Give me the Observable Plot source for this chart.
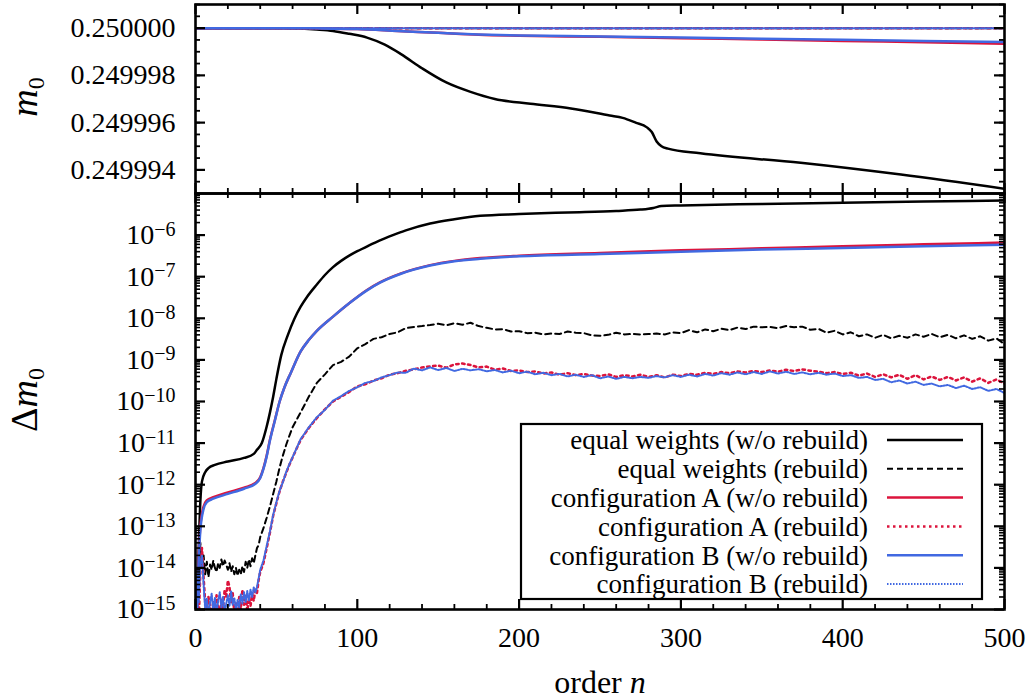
<!DOCTYPE html>
<html><head><meta charset="utf-8">
<script src="https://cdn.jsdelivr.net/npm/d3@7"></script>
<script src="https://cdn.jsdelivr.net/npm/@observablehq/plot@0.6"></script>
<style>
body{margin:0;background:#fff;}
#chart{position:relative;width:1029px;height:700px;background:#fff;overflow:hidden;font-family:"Liberation Serif",serif;}
#chart svg{position:absolute;left:0;}
</style></head><body><div id="chart"></div>
<script>
// ---------------- data ----------------
const seriesNames = ["equal weights (w/o rebuild)","equal weights (rebuild)","configuration A (w/o rebuild)","configuration A (rebuild)","configuration B (w/o rebuild)","configuration B (rebuild)"];
const xTicks = [0,100,200,300,400,500];
const m0Ticks = [0.249994,0.249996,0.249998,0.250000];
const dm0Ticks = [1e-15,1e-14,1e-13,1e-12,1e-11,1e-10,1e-9,1e-8,1e-7,1e-6];

// top panel: m0
const m0Equal = [[0,0.25],[55,0.25],[65,0.24999998],[75,0.24999994],[85,0.24999988],[95,0.24999976],[106,0.2499996],[117,0.2499993],[127,0.2499989],[140,0.2499983],[155,0.2499977],[170,0.2499973],[185,0.249997],[207,0.2499968],[232,0.2499966],[256,0.2499963],[264,0.2499962],[272,0.249996],[279,0.2499958],[282,0.2499956],[285,0.2499952],[288,0.249995],[292,0.2499949],[312,0.2499947],[374,0.2499943],[436,0.2499938],[500,0.2499932]];
const m0EqualRebuild = [[0,0.25],[500,0.25]];
const m0ConfA = [[0,0.25],[50,0.25],[75,0.24999999],[100,0.24999996],[125,0.24999988],[150,0.2499998],[175,0.24999972],[200,0.24999968],[250,0.24999963],[300,0.24999957],[350,0.24999952],[400,0.24999946],[450,0.2499994],[500,0.24999934]];
const m0ConfARebuild = [[0,0.25],[500,0.25]];
const m0ConfB = [[0,0.25],[50,0.25],[75,0.24999999],[100,0.24999996],[125,0.24999988],[150,0.2499998],[175,0.24999973],[200,0.24999969],[250,0.24999965],[300,0.2499996],[350,0.24999955],[400,0.24999951],[450,0.24999946],[500,0.24999941]];
const m0ConfBRebuild = [[0,0.25],[500,0.25]];

// bottom panel: Δm0
const dEqual = [[1,1e-15],[2,3e-14],[3,4e-13],[4,1.2e-12],[6,2e-12],[8,2.5e-12],[12,3e-12],[20,3.6e-12],[30,4.4e-12],[36,5.5e-12],[38,6.9e-12],[41,1e-11],[44,2.5e-11],[46,5.4e-11],[48,1.3e-10],[50,3.5e-10],[53,1.3e-9],[57,3.9e-9],[61,9.5e-9],[65,1.9e-8],[69,3.3e-8],[75,6.5e-8],[80,1.1e-7],[85,1.7e-7],[90,2.4e-7],[95,3.2e-7],[100,4.1e-7],[107,5.6e-7],[114,7.5e-7],[122,1e-6],[130,1.3e-6],[145,1.9e-6],[160,2.4e-6],[176,2.9e-6],[200,3.2e-6],[230,3.5e-6],[260,3.8e-6],[275,4.1e-6],[283,4.5e-6],[288,5e-6],[300,5.15e-6],[350,5.6e-6],[400,6e-6],[450,6.4e-6],[500,6.8e-6]];
const dConfA = [[1,1e-15],[2,2e-14],[3,1e-13],[5,3e-13],[7,4.2e-13],[11,5e-13],[20,6.5e-13],[30,8.5e-13],[37,1.1e-12],[40,1.5e-12],[42,2.5e-12],[44,5e-12],[46,1.2e-11],[49,3.5e-11],[52,1e-10],[55,2.2e-10],[59,5e-10],[65,1.6e-9],[70,3e-9],[75,5e-9],[85,1.1e-8],[95,2.3e-8],[106,4.8e-8],[114,7.3e-8],[127,1.2e-7],[145,1.9e-7],[160,2.4e-7],[176,2.8e-7],[200,3.2e-7],[250,3.7e-7],[300,4.3e-7],[350,4.8e-7],[400,5.4e-7],[450,6e-7],[500,6.6e-7]];
const dConfB = [[1,1e-15],[2,1.5e-14],[3,8e-14],[5,2.6e-13],[7,3.8e-13],[11,4.6e-13],[20,6e-13],[30,8e-13],[37,1.05e-12],[40,1.45e-12],[42,2.4e-12],[44,4.8e-12],[46,1.15e-11],[49,3.4e-11],[52,1e-10],[55,2.2e-10],[59,5e-10],[65,1.6e-9],[70,3e-9],[75,5e-9],[85,1.1e-8],[95,2.3e-8],[106,4.7e-8],[114,7.2e-8],[127,1.18e-7],[145,1.85e-7],[160,2.35e-7],[176,2.7e-7],[200,3.1e-7],[250,3.5e-7],[300,4e-7],[350,4.5e-7],[400,4.9e-7],[450,5.4e-7],[500,5.9e-7]];
const dEqualRebuild = [[2,2e-15],[3,4e-14],[4,1e-14],[5,2e-14],[6,7e-15],[7,1.4e-14],[8,6e-15],[9,1.2e-14],[10,9e-15],[11,1.5e-14],[12,1e-14],[13,8e-15],[14,1.3e-14],[15,1e-14],[16,1.6e-14],[17,1.1e-14],[18,1.5e-14],[19,1.2e-14],[20,9e-15],[21,1.3e-14],[22,8e-15],[23,1.1e-14],[24,7e-15],[25,1e-14],[26,6.5e-15],[27,9e-15],[28,7e-15],[29,1.1e-14],[30,8e-15],[31,1.4e-14],[32,1e-14],[33,1.6e-14],[34,1.1e-14],[35,1.7e-14],[36,1.3e-14],[37,2e-14],[38,3e-14],[39,3.5e-14],[40,5.5e-14],
[42,9e-14],[44,1.6e-13],[46,3e-13],[48,6e-13],[50,1.2e-12],[52,2.6e-12],[54,5e-12],[56,9e-12],[58,1.5e-11],[60,2.4e-11],
[65,5.5e-11],[70,1.3e-10],[75,2.8e-10],[80,4.5e-10],[85,7.5e-10],[90,9e-10],[95,1.2e-9],[100,1.9e-9],[105,2.4e-9],[110,3.2e-9],[115,3.5e-9],[120,4.2e-9],[125,4.6e-9],[130,5.8e-9],[135,6.2e-9],[140,6.5e-9],[145,6.9e-9],[150,7.4e-9],[155,6.8e-9],[160,7.6e-9],[165,7e-9],[170,7.8e-9],[175,6.5e-9],[180,5.9e-9],[185,5.4e-9],[190,5.5e-9],[195,4.8e-9],[200,4.9e-9],[205,4.4e-9],[210,4.5e-9],[215,4.1e-9],[220,4.3e-9],[225,4.2e-9],[230,4.8e-9],[235,4.5e-9],[240,4.4e-9],[245,3.9e-9],[250,3.8e-9],[255,4e-9],[260,4.5e-9],[265,4.1e-9],[270,4.2e-9],[275,4.1e-9],[280,4.2e-9],[285,4.3e-9],[290,4.1e-9],[295,4.6e-9],[300,4.4e-9],[305,5.2e-9],[310,4.6e-9],[315,5.4e-9],[320,4.9e-9],[325,5.6e-9],[330,5.2e-9],[335,6e-9],[340,5.5e-9],[345,6.3e-9],[350,6.1e-9],[355,6.2e-9],[360,5.8e-9],[365,6.5e-9],[370,6.1e-9],[375,6.3e-9],[380,5.3e-9],[385,5.6e-9],[390,4.5e-9],[395,5e-9],[400,4.1e-9],[405,4.6e-9],[410,3.7e-9],[415,4.1e-9],[420,3.4e-9],[425,4e-9],[430,3.3e-9],[435,3.8e-9],[440,3.4e-9],[445,4.1e-9],[450,3.6e-9],[455,4.2e-9],[460,3.5e-9],[465,4e-9],[470,3.3e-9],[475,3.9e-9],[480,3.2e-9],[485,3.7e-9],[490,2.9e-9],[495,3.3e-9],[500,2.4e-9]];
const dConfARebuild = [[2,5e-16],[3,8e-15],[4,3e-14],[5,6e-15],[6,1.5e-15],[7,8e-16],[8,2e-15],[9,1.2e-15],[10,7e-16],[11,1.6e-15],[12,9e-16],[13,2.2e-15],[14,1.1e-15],[15,7e-16],[16,1.8e-15],[17,1e-15],[18,3e-15],[19,2e-15],[20,5e-15],[21,3.5e-15],[22,1.5e-15],[23,2.5e-15],[24,8e-16],[25,1.4e-15],[26,6e-16],[27,2e-15],[28,1e-15],[29,3e-15],[30,1.3e-15],[31,2.2e-15],[32,9e-16],[33,1.8e-15],[34,1.2e-15],[35,2.5e-15],[36,1.6e-15],[37,3e-15],[38,2.5e-15],[39,5e-15],[40,8e-15],
[42,1.3e-14],[44,3e-14],[46,7e-14],[48,1.8e-13],[50,3.6e-13],[52,7e-13],[54,1.2e-12],[56,1.9e-12],[58,3e-12],[60,4.5e-12],
[65,1.2e-11],[70,2.3e-11],[75,4e-11],[80,6.5e-11],[85,1e-10],[90,1.3e-10],[95,1.7e-10],[100,2.3e-10],[105,2.6e-10],[110,3.2e-10],[115,3.6e-10],[120,4.4e-10],[125,4.8e-10],[130,5.5e-10],[135,5.9e-10],[140,6.6e-10],[145,7e-10],[150,7.3e-10],[155,6.5e-10],[160,7.8e-10],[165,8.2e-10],[170,7.5e-10],[175,6.6e-10],[180,6.9e-10],[185,5.8e-10],[190,6.2e-10],[195,5.4e-10],[200,5.6e-10],[205,5.1e-10],[210,5.3e-10],[215,4.7e-10],[220,5e-10],[225,4.4e-10],[230,4.8e-10],[235,4.3e-10],[240,4.6e-10],[245,4.2e-10],[250,4.1e-10],[255,4.5e-10],[260,3.9e-10],[265,4.3e-10],[270,4e-10],[275,4.4e-10],[280,3.9e-10],[285,4.3e-10],[290,3.8e-10],[295,4.4e-10],[300,4.1e-10],[305,4.6e-10],[310,4.4e-10],[315,4.9e-10],[320,4.6e-10],[325,5.1e-10],[330,4.8e-10],[335,5.3e-10],[340,5e-10],[345,5.4e-10],[350,5.1e-10],[355,5.6e-10],[360,5.2e-10],[365,5.8e-10],[370,5.4e-10],[375,5.9e-10],[380,5.5e-10],[385,5.2e-10],[390,4.8e-10],[395,5.1e-10],[400,4.6e-10],[405,4.9e-10],[410,4.2e-10],[415,4.7e-10],[420,3.9e-10],[425,4.5e-10],[430,3.8e-10],[435,4.4e-10],[440,3.5e-10],[445,4.3e-10],[450,3.4e-10],[455,4e-10],[460,3.3e-10],[465,3.9e-10],[470,3.2e-10],[475,3.8e-10],[480,3e-10],[485,3.6e-10],[490,2.8e-10],[495,3.4e-10],[500,2.7e-10]];
const dConfBRebuild = [[2,1.5e-15],[3,1.2e-14],[4,2e-14],[5,4e-15],[6,1e-15],[7,1.8e-15],[8,7e-16],[9,1.5e-15],[10,2.4e-15],[11,9e-16],[12,1.9e-15],[13,8e-16],[14,1.6e-15],[15,2.6e-15],[16,1.1e-15],[17,2e-15],[18,8e-16],[19,1.4e-15],[20,2.2e-15],[21,1.2e-15],[22,2.8e-15],[23,1.3e-15],[24,1.9e-15],[25,9e-16],[26,1.7e-15],[27,1.1e-15],[28,2.3e-15],[29,1.4e-15],[30,2.6e-15],[31,1.5e-15],[32,2.8e-15],[33,1.6e-15],[34,3e-15],[35,2e-15],[36,3.4e-15],[37,2.6e-15],[38,3.5e-15],[39,5.5e-15],[40,9e-15],
[42,1.5e-14],[44,3.4e-14],[46,7.5e-14],[48,1.9e-13],[50,3.8e-13],[52,7.2e-13],[54,1.15e-12],[56,2e-12],[58,3.1e-12],[60,4.6e-12],
[65,1.25e-11],[70,2.4e-11],[75,4.2e-11],[80,6.3e-11],[85,1.05e-10],[90,1.35e-10],[95,1.8e-10],[100,2.2e-10],[105,2.8e-10],[110,3.1e-10],[115,3.8e-10],[120,4.3e-10],[125,5e-10],[130,4.9e-10],[135,6.2e-10],[140,5.6e-10],[145,6.6e-10],[150,5.7e-10],[155,6.4e-10],[160,5.4e-10],[165,6.1e-10],[170,5.6e-10],[175,6e-10],[180,5.3e-10],[185,5.7e-10],[190,5e-10],[195,5.5e-10],[200,4.8e-10],[205,5.2e-10],[210,4.5e-10],[215,4.9e-10],[220,4.3e-10],[225,4.6e-10],[230,4e-10],[235,4.4e-10],[240,3.9e-10],[245,4.3e-10],[250,3.6e-10],[255,4e-10],[260,3.5e-10],[265,3.9e-10],[270,3.6e-10],[275,3.9e-10],[280,3.7e-10],[285,4.1e-10],[290,3.8e-10],[295,4.3e-10],[300,3.9e-10],[305,4.4e-10],[310,4e-10],[315,4.6e-10],[320,4.2e-10],[325,4.8e-10],[330,4.4e-10],[335,5e-10],[340,4.5e-10],[345,5.1e-10],[350,4.6e-10],[355,5.3e-10],[360,4.7e-10],[365,5.2e-10],[370,4.6e-10],[375,5e-10],[380,4.5e-10],[385,4.9e-10],[390,4.4e-10],[395,4.7e-10],[400,4.1e-10],[405,4.3e-10],[410,3.7e-10],[415,3.9e-10],[420,3.3e-10],[425,3.5e-10],[430,2.9e-10],[435,3.2e-10],[440,2.7e-10],[445,3e-10],[450,2.5e-10],[455,2.7e-10],[460,2.3e-10],[465,2.5e-10],[470,2.1e-10],[475,2.4e-10],[480,2e-10],[485,2.2e-10],[490,1.8e-10],[495,2e-10],[500,1.6e-10]];

// ---------------- layout & styles ----------------
const W = 1029, ML = 195, MR = 25, PW = W - ML - MR;
const TOP_H = 200, TOP_MT = 4, TOP_MB = 7, TOP_PH = TOP_H - TOP_MT - TOP_MB;
const BOT_TOP = 187, BOT_H = 513, BOT_MT = 6, BOT_MB = 91, BOT_PH = BOT_H - BOT_MT - BOT_MB;
const MAJ = 10, MIN = 5;
const styles = [
  {stroke: "#000000", strokeWidth: 2.5},
  {stroke: "#000000", strokeWidth: 2, strokeDasharray: "6,4"},
  {stroke: "#dc143c", strokeWidth: 2.5},
  {stroke: "#dc143c", strokeWidth: 2.5, strokeDasharray: "2.5,3.5"},
  {stroke: "#4169e1", strokeWidth: 2.5},
  {stroke: "#4169e1", strokeWidth: 2, strokeDasharray: "1.5,1.5"}
];
const XY = {x: d => d[0], y: d => d[1]};
const svgStyle = {fontFamily: '"Liberation Serif", serif', fontSize: "28px", color: "black", background: "transparent", overflow: "visible"};

function yEdgeTicks(vals, len, sw) {
  return [
    Plot.tickY(vals, {y: d => d, insetRight: PW - len, stroke: "black", strokeWidth: sw}),
    Plot.tickY(vals, {y: d => d, insetLeft: PW - len, stroke: "black", strokeWidth: sw})
  ];
}
function xEdgeTicks(vals, len, sw, ph) {
  return [
    Plot.tickX(vals, {x: d => d, insetBottom: ph - len, stroke: "black", strokeWidth: sw}),
    Plot.tickX(vals, {x: d => d, insetTop: ph - len, stroke: "black", strokeWidth: sw})
  ];
}
const xMinor = [];
for (let v = 0; v <= 500; v += 20) if (v % 100 !== 0) xMinor.push(v);
const m0Minor = [];
for (let k = 0; k <= 16; k++) m0Minor.push(0.249993 + k * 0.5e-6);
const dMinor = [];
for (let e = -15; e <= -6; e++) for (let k = 2; k <= 9; k++) dMinor.push(k * Math.pow(10, e));

const topSeries = [m0Equal, m0EqualRebuild, m0ConfA, m0ConfARebuild, m0ConfB, m0ConfBRebuild];
const botSeries = [dEqual, dEqualRebuild, dConfA, dConfARebuild, dConfB, dConfBRebuild];

const topPlot = Plot.plot({
  width: W, height: TOP_H, marginLeft: ML, marginRight: MR, marginTop: TOP_MT, marginBottom: TOP_MB,
  x: {domain: [0, 500], axis: null},
  y: {domain: [0.249993, 0.250001], label: null},
  style: {...svgStyle, top: "0px"},
  marks: [
    ...topSeries.map((s, i) => Plot.line(s, {...XY, ...styles[i], curve: "monotone-x", clip: true})),
    ...yEdgeTicks(m0Minor, MIN, 1.8),
    ...yEdgeTicks(m0Ticks, MAJ, 2.2),
    ...xEdgeTicks(xMinor, MIN, 1.8, TOP_PH),
    ...xEdgeTicks(xTicks, MAJ, 2.2, TOP_PH),
    Plot.axisY({ticks: m0Ticks, tickSize: 0, tickPadding: 20, tickFormat: d => d.toFixed(6), label: null}),
    Plot.frame({stroke: "black", strokeWidth: 2.6})
  ]
});

const botPlot = Plot.plot({
  width: W, height: BOT_H, marginLeft: ML, marginRight: MR, marginTop: BOT_MT, marginBottom: BOT_MB,
  x: {domain: [0, 500], label: null},
  y: {type: "log", domain: [1e-15, 1e-5], label: null},
  style: {...svgStyle, top: BOT_TOP + "px"},
  marks: [
    ...botSeries.map((s, i) => Plot.line(s, {...XY, ...styles[i], curve: i % 2 === 0 ? "monotone-x" : "linear", clip: true})),
    ...yEdgeTicks(dMinor, MIN, 1.6),
    ...yEdgeTicks(dm0Ticks, MAJ, 2.2),
    ...xEdgeTicks(xMinor, MIN, 1.8, BOT_PH),
    ...xEdgeTicks(xTicks, MAJ, 2.2, BOT_PH),
    Plot.axisY({ticks: dm0Ticks, tickSize: 0, tickPadding: 20, tickFormat: d => "10|\u2212" + (-Math.round(Math.log10(d))), label: null}),
    Plot.axisX({ticks: xTicks, tickSize: 0, tickPadding: 18, tickFormat: d => String(d), label: null}),
    Plot.frame({stroke: "black", strokeWidth: 2.6})
  ]
});

const chart = document.getElementById("chart");
chart.appendChild(botPlot);
chart.appendChild(topPlot);

// superscript exponents on the log axis
d3.select(botPlot).selectAll("text").each(function() {
  const s = this.textContent;
  if (s.indexOf("|") < 0) return;
  const [b, e] = s.split("|");
  this.textContent = b;
  d3.select(this).append("tspan").attr("dy", "-0.42em").attr("font-size", 20).text(e);
});

// overlay: axis titles and legend
const ov = d3.select(chart).append("svg")
  .attr("width", W).attr("height", 700)
  .style("top", "0px").style("left", "0px")
  .style("font-family", '"Liberation Serif", serif');

function rotLabel(x, y, pre, main, sub) {
  const t = ov.append("text").attr("transform", `translate(${x},${y}) rotate(-90)`)
    .attr("text-anchor", "middle").attr("font-size", 38).attr("fill", "black");
  if (pre) t.append("tspan").text(pre);
  t.append("tspan").attr("font-style", "italic").text(main);
  t.append("tspan").attr("font-size", 24).attr("dy", 7).text(sub);
}
rotLabel(37, 97, "", "m", "0");
rotLabel(37, 400, "\u0394", "m", "0");

const xl = ov.append("text").attr("x", 600).attr("y", 693).attr("text-anchor", "middle")
  .attr("font-size", 32).attr("fill", "black");
xl.append("tspan").text("order ");
xl.append("tspan").attr("font-style", "italic").text("n");

const lg = ov.append("g");
lg.append("rect").attr("x", 521).attr("y", 424).attr("width", 461).attr("height", 175)
  .attr("fill", "white").attr("stroke", "black").attr("stroke-width", 2.2);
seriesNames.forEach((name, i) => {
  const cy = 440 + i * 28.8;
  lg.append("text").attr("x", 868).attr("y", cy).attr("dy", "0.35em").attr("text-anchor", "end")
    .attr("font-size", 27).attr("fill", "black").text(name);
  const st = styles[i];
  lg.append("line").attr("x1", 887).attr("x2", 963).attr("y1", cy).attr("y2", cy)
    .attr("stroke", st.stroke).attr("stroke-width", st.strokeWidth)
    .attr("stroke-dasharray", st.strokeDasharray || null);
});
</script></body></html>
